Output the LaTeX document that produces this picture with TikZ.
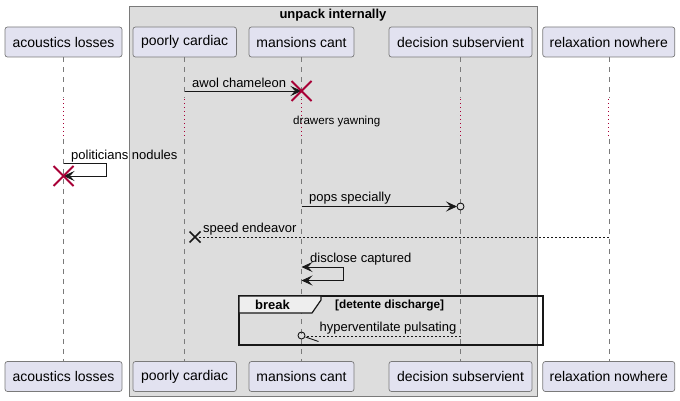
\documentclass[tikz,border=0pt]{standalone}
\usepackage{fontspec}
\setmainfont{Liberation Sans}
\usetikzlibrary{arrows.meta,calc}
\definecolor{partfill}{HTML}{E2E2F0}
\definecolor{partline}{HTML}{7A7A7A}
\definecolor{grpfill}{HTML}{DDDDDD}
\definecolor{grpline}{HTML}{7A7A7A}
\definecolor{lifegray}{HTML}{7A7A7A}
\definecolor{delayred}{HTML}{A80036}
\definecolor{tabfill}{HTML}{EEEEEE}
\definecolor{ink}{HTML}{181818}
\begin{document}
\begin{tikzpicture}[x=1pt,y=-1pt,
  part/.style={draw=partline, fill=partfill, rounded corners=2.5pt, minimum height=30pt, inner sep=0pt, line width=0.7pt, font=\fontsize{14}{16}\selectfont},
  msg/.style={inner sep=0pt, anchor=west, font=\fontsize{13}{15}\selectfont},
  lifeline/.style={draw=lifegray, line width=0.6pt, dash pattern=on 5pt off 5pt},
  delayline/.style={draw=delayred, line width=1.2pt, dash pattern=on 1pt off 3pt},
  tip/.style={Stealth[length=11pt,width=10pt,inset=4.5pt]},
  arr/.style={draw=ink, line width=0.8pt, -{Stealth[length=11pt,width=10pt,inset=4.5pt]}},
  biarr/.style={draw=ink, line width=0.8pt, {Stealth[length=11pt,width=10pt,inset=4.5pt]}-{Stealth[length=11pt,width=10pt,inset=4.5pt]}},
  retline/.style={draw=ink, line width=0.8pt, dash pattern=on 2pt off 2pt},
  destroyx/.style={draw=delayred, line width=1.8pt},
  lostx/.style={draw=ink, line width=1.6pt},
]
\useasboundingbox (0,0) rectangle (680,401);
% group box
\node[draw=grpline, fill=grpfill, line width=0.8pt, minimum width=408pt, minimum height=390pt, inner sep=0pt, anchor=north west] (grp) at (129,6) {};
\node[inner sep=0pt, font=\fontsize{13}{15}\selectfont\bfseries] (grpt) at (333,15) {unpack internally};

% participants top
\node[part, minimum width=117pt] (alT) at (63.5,42) {acoustics losses};
\node[part, minimum width=103.5pt] (pcT) at (184.7,42) {poorly cardiac};
\node[part, minimum width=105pt] (mcT) at (301.5,42) {mansions cant};
\node[part, minimum width=143pt] (dsT) at (460.5,42) {decision subservient};
\node[part, minimum width=132pt] (rnT) at (608.8,42) {relaxation nowhere};
% participants bottom
\node[part, minimum width=117pt] (alB) at (63.5,376.5) {acoustics losses};
\node[part, minimum width=103.5pt] (pcB) at (184.7,376.5) {poorly cardiac};
\node[part, minimum width=105pt] (mcB) at (301.5,376.5) {mansions cant};
\node[part, minimum width=143pt] (dsB) at (460.5,376.5) {decision subservient};
\node[part, minimum width=132pt] (rnB) at (608.8,376.5) {relaxation nowhere};

% lifelines
\foreach \p in {al,pc,mc,ds,rn}{
  \draw[lifeline] (\p T.south) -- (\p T.south |- 0,98);
  \draw[delayline] (\p T.south |- 0,99) -- (\p T.south |- 0,138);
  \draw[lifeline] (\p T.south |- 0,139) -- (\p B.north);
}

% awol chameleon
\draw[arr] (pcT.south |- 0,91) -- (mcT.south |- 0,91);
\node[msg] (m1) at (192,83) {awol chameleon};
\draw[destroyx] ($(mcT.south |- 0,91)+(-10,-10)$) -- ++(20,20) ($(mcT.south |- 0,91)+(10,-10)$) -- ++(-20,20);

% delay text
\node[inner sep=0pt, anchor=west, font=\fontsize{11.6}{13}\selectfont] (dl) at (293,121.5) {drawers yawning};

% politicians nodules (self)
\node[msg] (m2) at (71,156) {politicians nodules};
\draw[arr] (alT.south |- 0,163) -- (106,163) -- (106,176) -- (alT.south |- 0,176);
\draw[destroyx] ($(alT.south |- 0,176)+(-10,-10)$) -- ++(20,20) ($(alT.south |- 0,176)+(10,-10)$) -- ++(-20,20);

% pops specially
\node[msg] (m3) at (309,198.5) {pops specially};
\draw[arr] (mcT.south |- 0,206.5) -- ($(dsT.south |- 0,206.5)+(-3.5,0)$);
\draw[draw=ink, line width=0.9pt] (dsT.south |- 0,206.5) circle[radius=3.5pt];

% speed endeavor (lost)
\node[msg] (m4) at (203,229) {speed endeavor};
\draw[retline] (rnT.south |- 0,237) -- (197,237);
\draw[lostx] (189.5,231.5) -- (200.5,242.5) (189.5,242.5) -- (200.5,231.5);

% disclose captured (self, both ends)
\node[msg] (m5) at (310,259) {disclose captured};
\draw[biarr] (mcT.south |- 0,267) -- (343,267) -- (343,280.5) -- (mcT.south |- 0,280.5);

% break fragment
\draw[draw=ink, line width=1.5pt] (239,296) rectangle (543,345);
\filldraw[draw=ink, fill=tabfill, line width=1.2pt] (239,296) -- (321,296) -- (321,300) -- (312,313) -- (239,313) -- cycle;
\node[inner sep=0pt, anchor=west, font=\fontsize{13}{15}\selectfont\bfseries] (brk) at (255,305) {break};
\node[inner sep=0pt, anchor=west, font=\fontsize{11.8}{13}\selectfont\bfseries] (brkc) at (335,305) {[detente discharge]};

% hyperventilate pulsating
\node[msg] (m6) at (319.5,328) {hyperventilate pulsating};
\draw[retline] (dsT.south |- 0,336) -- ($(mcT.south |- 0,336)+(4,0)$);
\draw[draw=ink, line width=0.9pt] (mcT.south |- 0,335.5) circle[radius=3.5pt];
\draw[draw=ink, line width=0.9pt] ($(mcT.south |- 0,335.5)+(4,1.5)$) -- ++(13,4.5);
\end{tikzpicture}
\end{document}
